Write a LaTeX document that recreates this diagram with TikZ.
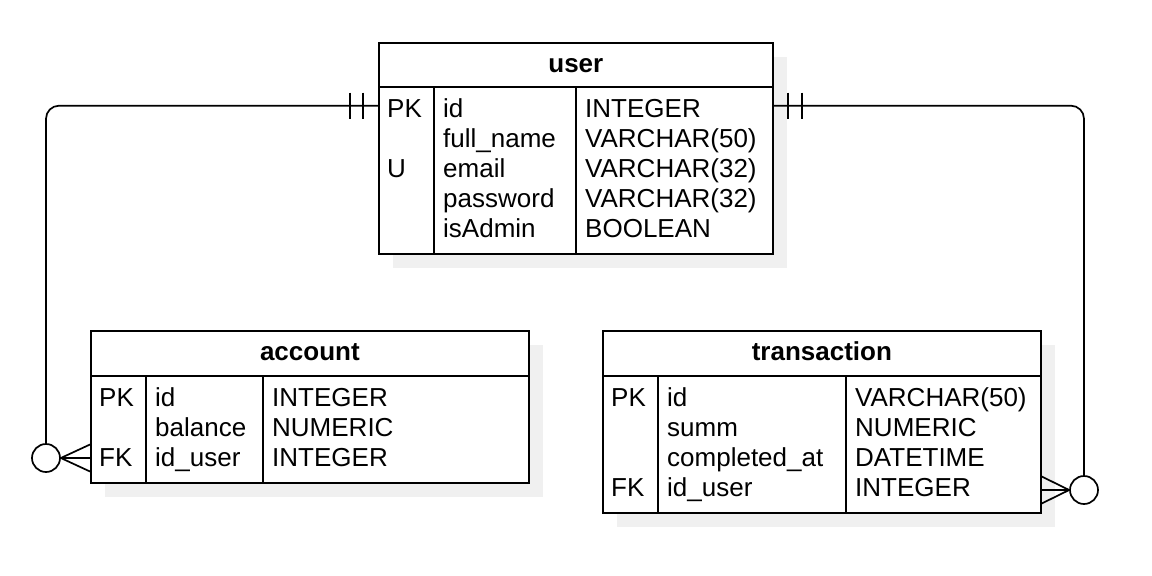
\documentclass[tikz,border=0pt]{standalone}
\usepackage{fontspec}
\setmainfont{Liberation Sans}
\usetikzlibrary{calc, shadows}
\definecolor{shadowgray}{HTML}{F0F0F0}

\begin{document}
\begin{tikzpicture}[
  x=1pt, y=-1pt,
  font=\fontsize{26}{30}\selectfont,
  entity/.style={rectangle, draw, line width=1.7pt, fill=white, inner sep=0pt, anchor=north west,
    drop shadow={shadow xshift=14pt, shadow yshift=-14pt, fill=shadowgray, opacity=1}},
  title/.style={anchor=base, inner sep=0pt, font=\fontsize{26}{30}\selectfont\bfseries},
  cell/.style={anchor=base west, inner sep=0pt},
  headsep/.style={line width=1.7pt},
  divider/.style={line width=1.2pt},
  rel/.style={line width=1.7pt},
  card/.style={circle, draw, line width=1.7pt, fill=white, minimum size=28pt, inner sep=0pt}
]
\useasboundingbox (0,0) rectangle (1152,576);

% Tables
\node[entity, minimum width=394, minimum height=211] (user) at (378,42) {};
\node[entity, minimum width=438, minimum height=152] (account) at (90,330) {};
\node[entity, minimum width=438, minimum height=182] (transaction) at (602,330) {};

% Titles
\node[title] (usertitle) at ($(user.north)+(0,30)$) {user};
\node[title] (accounttitle) at ($(account.north)+(0,30)$) {account};
\node[title] (transactiontitle) at ($(transaction.north)+(0,30)$) {transaction};

% Header lines and columns
\draw[headsep] ($(user.north west)+(0,45)$) -- ($(user.north east)+(0,45)$);
\draw[divider] ($(user.north west)+(56,45)$) -- ($(user.south west)+(56,0)$);
\draw[divider] ($(user.north west)+(198,45)$) -- ($(user.south west)+(198,0)$);

\draw[headsep] ($(account.north west)+(0,46)$) -- ($(account.north east)+(0,46)$);
\draw[divider] ($(account.north west)+(56,46)$) -- ($(account.south west)+(56,0)$);
\draw[divider] ($(account.north west)+(173,46)$) -- ($(account.south west)+(173,0)$);

\draw[headsep] ($(transaction.north west)+(0,46)$) -- ($(transaction.north east)+(0,46)$);
\draw[divider] ($(transaction.north west)+(56,46)$) -- ($(transaction.south west)+(56,0)$);
\draw[divider] ($(transaction.north west)+(244,46)$) -- ($(transaction.south west)+(244,0)$);

% user rows
\node[cell] (upk) at (387,117) {PK};
\node[cell] (uu) at (387,177) {U};
\foreach \t [count=\i] in {id, full\_name, email, password, isAdmin}
  \node[cell] (uname\i) at (443,87+30*\i) {\t};
\foreach \t [count=\i] in {INTEGER, VARCHAR(50), VARCHAR(32), VARCHAR(32), BOOLEAN}
  \node[cell] (utype\i) at (585,87+30*\i) {\t};

% account rows
\node[cell] (apk) at (99,406) {PK};
\node[cell] (afk) at (99,466) {FK};
\foreach \t [count=\i] in {id, balance, id\_user}
  \node[cell] (aname\i) at (155,376+30*\i) {\t};
\foreach \t [count=\i] in {INTEGER, NUMERIC, INTEGER}
  \node[cell] (atype\i) at (272,376+30*\i) {\t};

% transaction rows
\node[cell] (tpk) at (611,406) {PK};
\node[cell] (tfk) at (611,496) {FK};
\foreach \t [count=\i] in {id, summ, completed\_at, id\_user}
  \node[cell] (tname\i) at (667,376+30*\i) {\t};
\foreach \t [count=\i] in {VARCHAR(50), NUMERIC, DATETIME, INTEGER}
  \node[cell] (ttype\i) at (855,376+30*\i) {\t};

% Relations
\node[card] (acirc) at (46,458) {};
\node[card] (tcirc) at (1084,490) {};
\coordinate (ul) at ($(user.west |- uname1)+(0,-2)$);
\coordinate (ur) at ($(user.east |- uname1)+(0,-2)$);

% user -> account
\draw[rel, rounded corners=13pt] (ul) -| (acirc);
\draw[rel] ($(ul)+(-15,-13)$) -- ++(0,26);
\draw[rel] ($(ul)+(-28,-13)$) -- ++(0,26);
\draw[rel] (acirc.east) -- ($(account.west |- acirc)+(0,-13.5)$);
\draw[rel] (acirc.east) -- (account.west |- acirc);
\draw[rel] (acirc.east) -- ($(account.west |- acirc)+(0,13.5)$);

% user -> transaction
\draw[rel, rounded corners=13pt] (ur) -| (tcirc);
\draw[rel] ($(ur)+(14,-13)$) -- ++(0,26);
\draw[rel] ($(ur)+(28,-13)$) -- ++(0,26);
\draw[rel] (tcirc.west) -- ($(transaction.east |- tcirc)+(0,-13.5)$);
\draw[rel] (tcirc.west) -- (transaction.east |- tcirc);
\draw[rel] (tcirc.west) -- ($(transaction.east |- tcirc)+(0,13.5)$);

\end{tikzpicture}
\end{document}
